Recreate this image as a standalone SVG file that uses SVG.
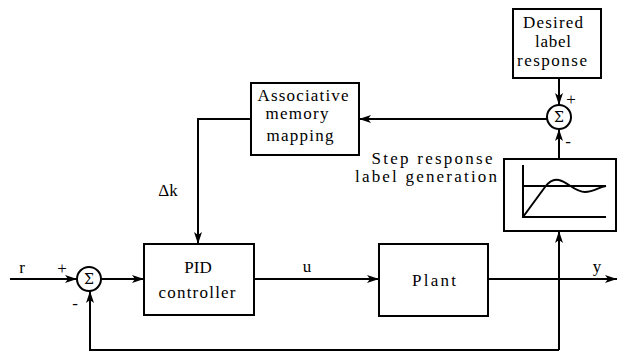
<svg xmlns="http://www.w3.org/2000/svg" width="622" height="353" viewBox="0 0 622 353">
<defs>
<marker id="ah" viewBox="0 0 12 8" refX="12" refY="4" markerWidth="12" markerHeight="8" markerUnits="userSpaceOnUse" orient="auto">
<path d="M0,0 L12,4 L0,8 L3,4 Z" fill="#000"/>
</marker>
<style>
.box{fill:#fff;stroke:#000;stroke-width:2}
.ln{fill:none;stroke:#000;stroke-width:2}
.t{font-family:Liberation Serif,DejaVu Serif,serif;font-size:17px;fill:#000;text-anchor:middle}
.s{font-family:DejaVu Serif,serif;font-size:14px;fill:#000;text-anchor:middle}
</style>
</defs>
<rect width="622" height="353" fill="#fff"/>
<g id="connectors">
<path class="ln" d="M10,279 H77" marker-end="url(#ah)"/>
<path class="ln" d="M101,279 H144" marker-end="url(#ah)"/>
<path class="ln" d="M254,279 H379" marker-end="url(#ah)"/>
<path class="ln" d="M488,279 H617" marker-end="url(#ah)"/>
<path class="ln" d="M559,350 V231" marker-end="url(#ah)"/>
<path class="ln" d="M559,350 H90 V291" marker-end="url(#ah)"/>
<path class="ln" d="M559,159 V129" marker-end="url(#ah)"/>
<path class="ln" d="M559,78 V105" marker-end="url(#ah)"/>
<path class="ln" d="M547,119 H359" marker-end="url(#ah)"/>
<path class="ln" d="M251,119 H198 V244" marker-end="url(#ah)"/>
</g>
<g id="labels">
<text class="t" x="22" y="273">r</text>
<text class="t" x="62" y="274">+</text>
<text class="t" x="75" y="309">-</text>
<text class="t" x="307" y="272">u</text>
<text class="t" x="597" y="272">y</text>
<text class="t" x="168" y="196">Δk</text>
<text class="t" x="571" y="105">+</text>
<text class="t" x="568" y="147">-</text>
<text class="t" x="432" y="164" textLength="121" lengthAdjust="spacing">Step response</text>
<text class="t" x="426" y="182" textLength="142" lengthAdjust="spacing">label generation</text>
</g>
<g id="sum1">
<circle class="box" cx="89" cy="279" r="12"/>
<text class="s" x="89" y="284">Σ</text>
</g>
<g id="sum2">
<circle class="box" cx="559" cy="117" r="12"/>
<text class="s" x="559" y="122">Σ</text>
</g>
<g id="pid">
<rect class="box" x="144" y="244" width="110" height="71"/>
<text class="t" x="198" y="273">PID</text>
<text class="t" x="197" y="298" textLength="77" lengthAdjust="spacing">controller</text>
</g>
<g id="plant">
<rect class="box" x="379" y="244" width="109" height="72"/>
<text class="t" x="434" y="286" textLength="44" lengthAdjust="spacing">Plant</text>
</g>
<g id="assoc">
<rect class="box" x="251" y="83" width="108" height="72"/>
<text class="t" x="303" y="101" textLength="91" lengthAdjust="spacing">Associative</text>
<text class="t" x="297" y="119" textLength="63" lengthAdjust="spacing">memory</text>
<text class="t" x="300" y="141" textLength="67" lengthAdjust="spacing">mapping</text>
</g>
<g id="desired">
<rect class="box" x="513" y="9" width="88" height="69"/>
<text class="t" x="553" y="28" textLength="60" lengthAdjust="spacing">Desired</text>
<text class="t" x="553" y="47" textLength="36" lengthAdjust="spacing">label</text>
<text class="t" x="552" y="66" textLength="70" lengthAdjust="spacing">response</text>
</g>
<g id="step">
<rect class="box" x="504" y="159" width="112" height="72"/>
<path class="ln" stroke-width="1.5" d="M523,165 V217 H606"/>
<path class="ln" stroke-width="1.5" d="M523,186 H606"/>
<path class="ln" stroke-width="2" d="M523,217 L545,187 C550,180 555,179 559,180 C568,182 575,192 585,192 C594,192 599,187 606,186"/>
</g>
</svg>
